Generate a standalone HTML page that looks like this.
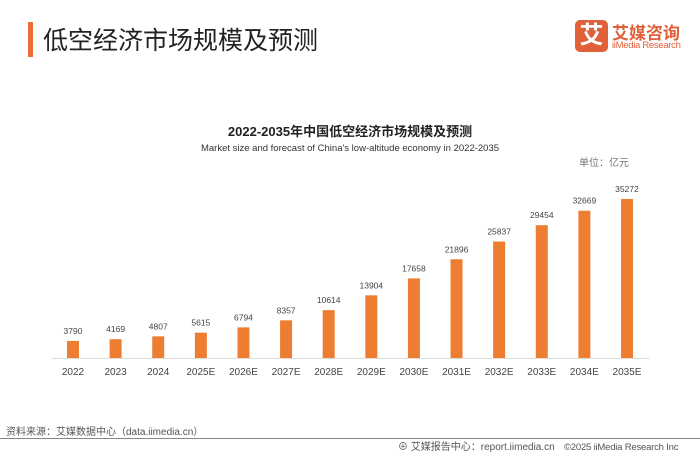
<!DOCTYPE html>
<html><head><meta charset="utf-8"><style>
body{margin:0;width:700px;height:455px;background:#fff;font-family:"Liberation Sans","Noto Sans CJK SC",sans-serif;position:relative;overflow:hidden}
.a{position:absolute;white-space:nowrap}
</style></head><body>
<div class="a" style="left:28px;top:22px;width:5px;height:35px;background:#ee6a3a"></div>
<div class="a" style="left:43px;top:21px;font-size:25px;color:#222">低空经济市场规模及预测</div>
<div class="a" style="left:575px;top:20px;width:33px;height:32px;background:#e0603a;border-radius:5px;color:#fff;font-size:24px;font-weight:bold;text-align:center;line-height:32px">艾</div>
<div class="a" style="left:612px;top:19px;font-size:17px;font-weight:bold;color:#e0603a">艾媒咨询</div>
<div class="a" style="left:612px;top:40px;font-size:9.5px;color:#e0603a;letter-spacing:-0.3px">iiMedia Research</div>
<div class="a" style="left:0;width:700px;text-align:center;top:121px;font-size:13px;font-weight:bold;color:#222">2022-2035年中国低空经济市场规模及预测</div>
<div class="a" style="left:0;width:700px;text-align:center;top:143px;font-size:9.5px;color:#333">Market size and forecast of China's low-altitude economy in 2022-2035</div>
<div class="a" style="left:579px;top:154px;font-size:10px;color:#777">单位：亿元</div>
<svg id="c" class="a" style="left:0;top:0" width="700" height="455"></svg>
<div class="a" style="left:6px;top:423px;font-size:10px;color:#555">资料来源：艾媒数据中心（data.iimedia.cn）</div>
<div class="a" style="left:0;top:438px;width:700px;height:1px;background:#888"></div>
<div class="a" style="left:398px;top:441px;font-size:10px;line-height:13px;color:#555">⊕ 艾媒报告中心：report.iimedia.cn</div>
<div class="a" style="left:564px;top:441px;font-size:9.5px;line-height:13px;color:#555;letter-spacing:-0.2px">©2025  iiMedia Research Inc</div>
<script>
const categories=["2022","2023","2024","2025E","2026E","2027E","2028E","2029E","2030E","2031E","2032E","2033E","2034E","2035E"];
const values=[3790,4169,4807,5615,6794,8357,10614,13904,17658,21896,25837,29454,32669,35272];
const svg=document.getElementById('c');const NS='http://www.w3.org/2000/svg';
const x0=73,step=(627-73)/(categories.length-1),base=358,k=159/35272;
const x=i=>x0+i*step, y=v=>base-v*k;
const ax=document.createElementNS(NS,'line');


ax.setAttribute('x1',52);ax.setAttribute('x2',650);ax.setAttribute('y1',base+0.5);ax.setAttribute('y2',base+0.5);ax.setAttribute('stroke','#ddd');svg.appendChild(ax);
categories.forEach((c,i)=>{
 const r=document.createElementNS(NS,'rect');
 
 
 r.setAttribute('x',x(i)-6);r.setAttribute('width',12);r.setAttribute('y',y(values[i]));r.setAttribute('height',base-y(values[i]));r.setAttribute('fill','#ed7d31');svg.appendChild(r);
 const t=document.createElementNS(NS,'text');
 
 
 t.setAttribute('x',x(i));t.setAttribute('y',y(values[i])-7);t.setAttribute('text-anchor','middle');t.setAttribute('font-size','8.5');t.setAttribute('fill','#444');t.setAttribute('font-family','Liberation Sans, sans-serif');t.textContent=values[i];svg.appendChild(t);
 const l=document.createElementNS(NS,'text');
 
 
 l.setAttribute('x',x(i));l.setAttribute('y',base+17);l.setAttribute('text-anchor','middle');l.setAttribute('font-size','10');l.setAttribute('fill','#444');l.setAttribute('font-family','Liberation Sans, sans-serif');l.textContent=c;svg.appendChild(l);
});
</script>
</body></html>
